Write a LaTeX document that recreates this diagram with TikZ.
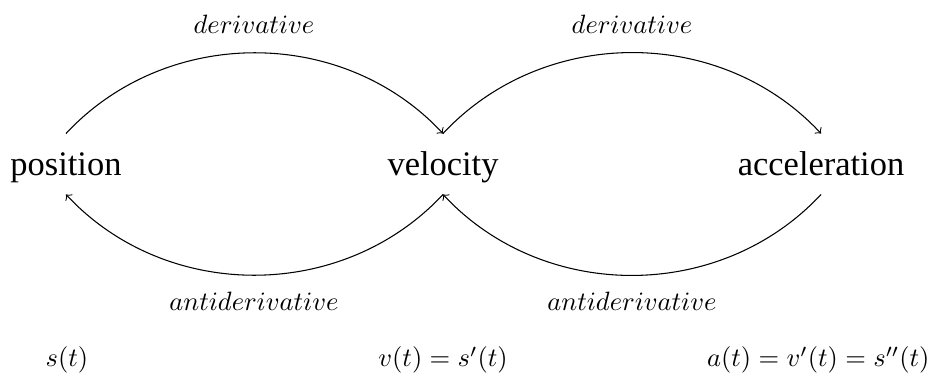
\documentclass[tikz,border=0pt]{standalone}
\usepackage{fontspec}
\newfontfamily\nodefont{Liberation Serif}
\begin{document}
\begin{tikzpicture}[x=0.3774pt,y=-0.3774pt,
  qty/.style={font=\nodefont\fontsize{13}{15}\selectfont, text height=8.8pt, text depth=0pt, minimum height=22.6pt, inner xsep=0pt},
  lbl/.style={inner sep=0pt},
  arc/.style={->, bend left=47}]
\useasboundingbox (0,0) rectangle (933,376);
\node[qty] (p) at (66,164) {position};
\node[qty] (v) at (443,164) {velocity};
\node[qty] (a) at (821,164) {acceleration};
\node[lbl] (d1) at (254,24) {$derivative$};
\node[lbl] (d2) at (632,24) {$derivative$};
\node[lbl] (ad1) at (254,301) {$antiderivative$};
\node[lbl] (ad2) at (632,301) {$antiderivative$};
\node[lbl] (sp) at (67,360) {$s(t)$};
\node[lbl] (sv) at (443,360) {$v(t)=s'(t)$};
\node[lbl, anchor=east] (sa) at (930,360) {$a(t)=v'(t)=s''(t)$};
\draw[arc] (p.north) to (v.north);
\draw[arc] (v.north) to (a.north);
\draw[arc] (v.south) to (p.south);
\draw[arc] (a.south) to (v.south);
\end{tikzpicture}
\end{document}
